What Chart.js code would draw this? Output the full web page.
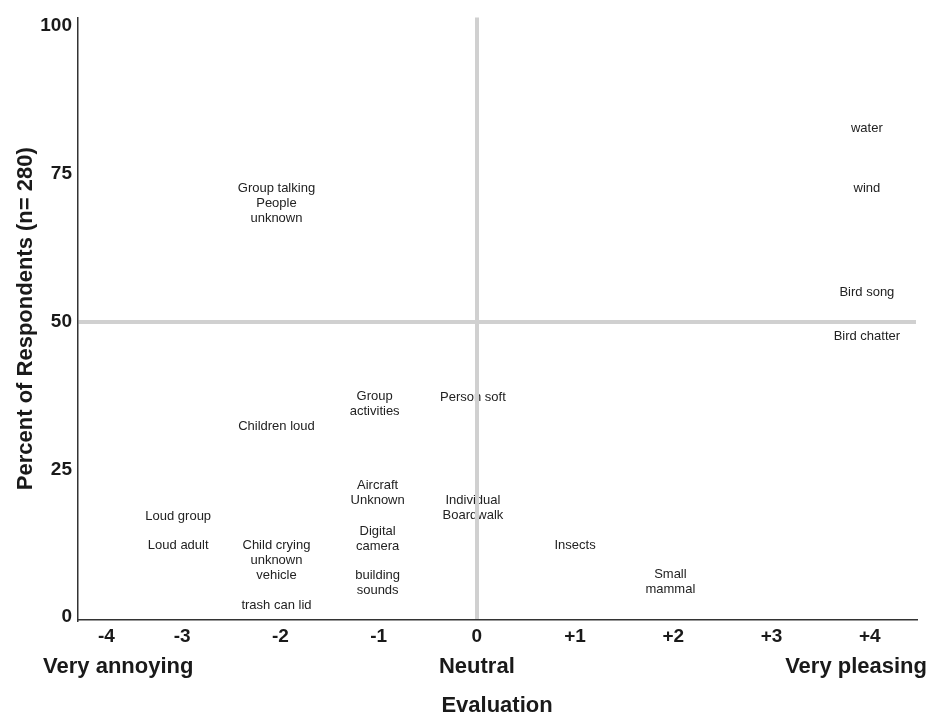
<!DOCTYPE html>
<html>
<head>
<meta charset="utf-8">
<script src="https://cdn.jsdelivr.net/npm/chart.js@4"></script>
<style>
  html, body { margin: 0; padding: 0; background: #fff; }
  #wrap { width: 943px; height: 721px; }
</style>
</head>
<body>
<div id="wrap"><canvas id="soundChart"></canvas></div>
<script>
// sound sources: evaluation (x) and percent of respondents (y)
const soundLabels = [
    'water', 'wind', 'Bird song', 'Bird chatter',
    'Group talking', 'People\nunknown', 'Children loud',
    'Group\nactivities', 'Person soft',
    'Aircraft\nUnknown', 'Individual\nBoardwalk',
    'Loud group', 'Loud adult', 'Digital\ncamera',
    'Child crying', 'unknown\nvehicle', 'building\nsounds', 'trash can lid',
    'Insects', 'Small\nmammal'
];
const evaluation = [
    3.97, 3.97, 3.97, 3.97,
    -2.04, -2.04, -2.04,
    -1.04, -0.04,
    -1.01, -0.04,
    -3.04, -3.04, -1.01,
    -2.04, -2.04, -1.01, -2.04,
    1.0, 1.97
];
const percentResp = [
    82.7, 72.6, 54.9, 47.5,
    72.5, 68.8, 32.2,
    36.1, 37.2,
    21.0, 18.5,
    17.1, 12.1, 13.3,
    12.1, 8.3, 5.8, 2.0,
    12.1, 5.9
];

// axis ticks
const xTickValues = [-3.77, -3, -2, -1, 0, 1, 2, 3, 4];
const xTickLabels = ['-4', '-3', '-2', '-1', '0', '+1', '+2', '+3', '+4'];
const yTickValues = [0, 25, 50, 75, 100];
const anchorValues = [-3.65, 0, 3.86];
const anchorLabels = ['Very annoying', 'Neutral', 'Very pleasing'];

const FONT = '"Liberation Sans", Arial, Helvetica, sans-serif';
const INK = '#1a1a1a';
const GUIDE = '#d0d0d0';

// draw each sound name centred on its point
const textLabelPlugin = {
    id: 'textLabels',
    afterDatasetsDraw(chart) {
        const ctx = chart.ctx;
        const meta = chart.getDatasetMeta(0);
        ctx.save();
        ctx.font = '13px ' + FONT;
        ctx.fillStyle = '#222';
        ctx.textAlign = 'center';
        ctx.textBaseline = 'middle';
        meta.data.forEach((pt, i) => {
            const lines = soundLabels[i].split('\n');
            const lh = 15;
            const y0 = pt.y - (lines.length - 1) * lh / 2;
            lines.forEach((ln, j) => ctx.fillText(ln, pt.x, y0 + j * lh));
        });
        ctx.restore();
    }
};

function initChart() {
    const ctx = document.getElementById('soundChart').getContext('2d');
    const points = evaluation.map((x, i) => ({ x: x, y: percentResp[i] }));

    new Chart(ctx, {
        type: 'scatter',
        data: {
            datasets: [{
                data: points,
                pointRadius: 0,
                pointHoverRadius: 0
            }]
        },
        options: {
            responsive: true,
            maintainAspectRatio: false,
            animation: false,
            layout: { padding: { top: 12, right: 27, bottom: 0, left: 0 } },
            plugins: {
                legend: { display: false },
                tooltip: { enabled: false }
            },
            scales: {
                x: {
                    type: 'linear',
                    position: 'bottom',
                    min: -4.06,
                    max: 4.47,
                    afterBuildTicks: s => { s.ticks = xTickValues.map(v => ({ value: v })); },
                    afterFit: s => { s.height = 28; },
                    ticks: {
                        autoSkip: false,
                        maxRotation: 0,
                        padding: 5,
                        color: INK,
                        font: { family: FONT, size: 19, weight: 'bold' },
                        callback: (v, i) => xTickLabels[i]
                    },
                    grid: {
                        z: 1,
                        drawTicks: false,
                        lineWidth: 4,
                        color: c => (c.tick && c.tick.value === 0) ? GUIDE : 'rgba(0,0,0,0)'
                    },
                    border: { display: true, color: '#333', width: 1.5, z: 2 }
                },
                x2: {
                    type: 'linear',
                    position: 'bottom',
                    min: -4.06,
                    max: 4.47,
                    afterBuildTicks: s => { s.ticks = anchorValues.map(v => ({ value: v })); },
                    afterFit: s => { s.height = 73; },
                    ticks: {
                        autoSkip: false,
                        maxRotation: 0,
                        padding: 6,
                        color: INK,
                        font: { family: FONT, size: 22, weight: 'bold' },
                        callback: (v, i) => anchorLabels[i]
                    },
                    grid: { display: false, drawTicks: false },
                    border: { display: false },
                    title: {
                        display: true,
                        text: 'Evaluation',
                        color: INK,
                        font: { family: FONT, size: 22, weight: 'bold' },
                        padding: { top: 0, bottom: 2 }
                    }
                },
                y: {
                    type: 'linear',
                    min: -0.5,
                    max: 101.5,
                    afterBuildTicks: s => { s.ticks = yTickValues.map(v => ({ value: v })); },
                    afterFit: s => { s.width = 78; },
                    ticks: {
                        padding: 6,
                        color: INK,
                        font: { family: FONT, size: 19, weight: 'bold' }
                    },
                    grid: {
                        z: 1,
                        drawTicks: false,
                        lineWidth: 4,
                        color: c => (c.tick && c.tick.value === 50) ? GUIDE : 'rgba(0,0,0,0)'
                    },
                    border: { display: true, color: '#333', width: 1.5, z: 2 },
                    title: {
                        display: true,
                        text: 'Percent of Respondents (n= 280)',
                        color: INK,
                        font: { family: FONT, size: 22, weight: 'bold' },
                        padding: { top: 13, bottom: 0 }
                    }
                }
            }
        },
        plugins: [textLabelPlugin]
    });
}

window.addEventListener('DOMContentLoaded', initChart);
</script>
</body>
</html>
